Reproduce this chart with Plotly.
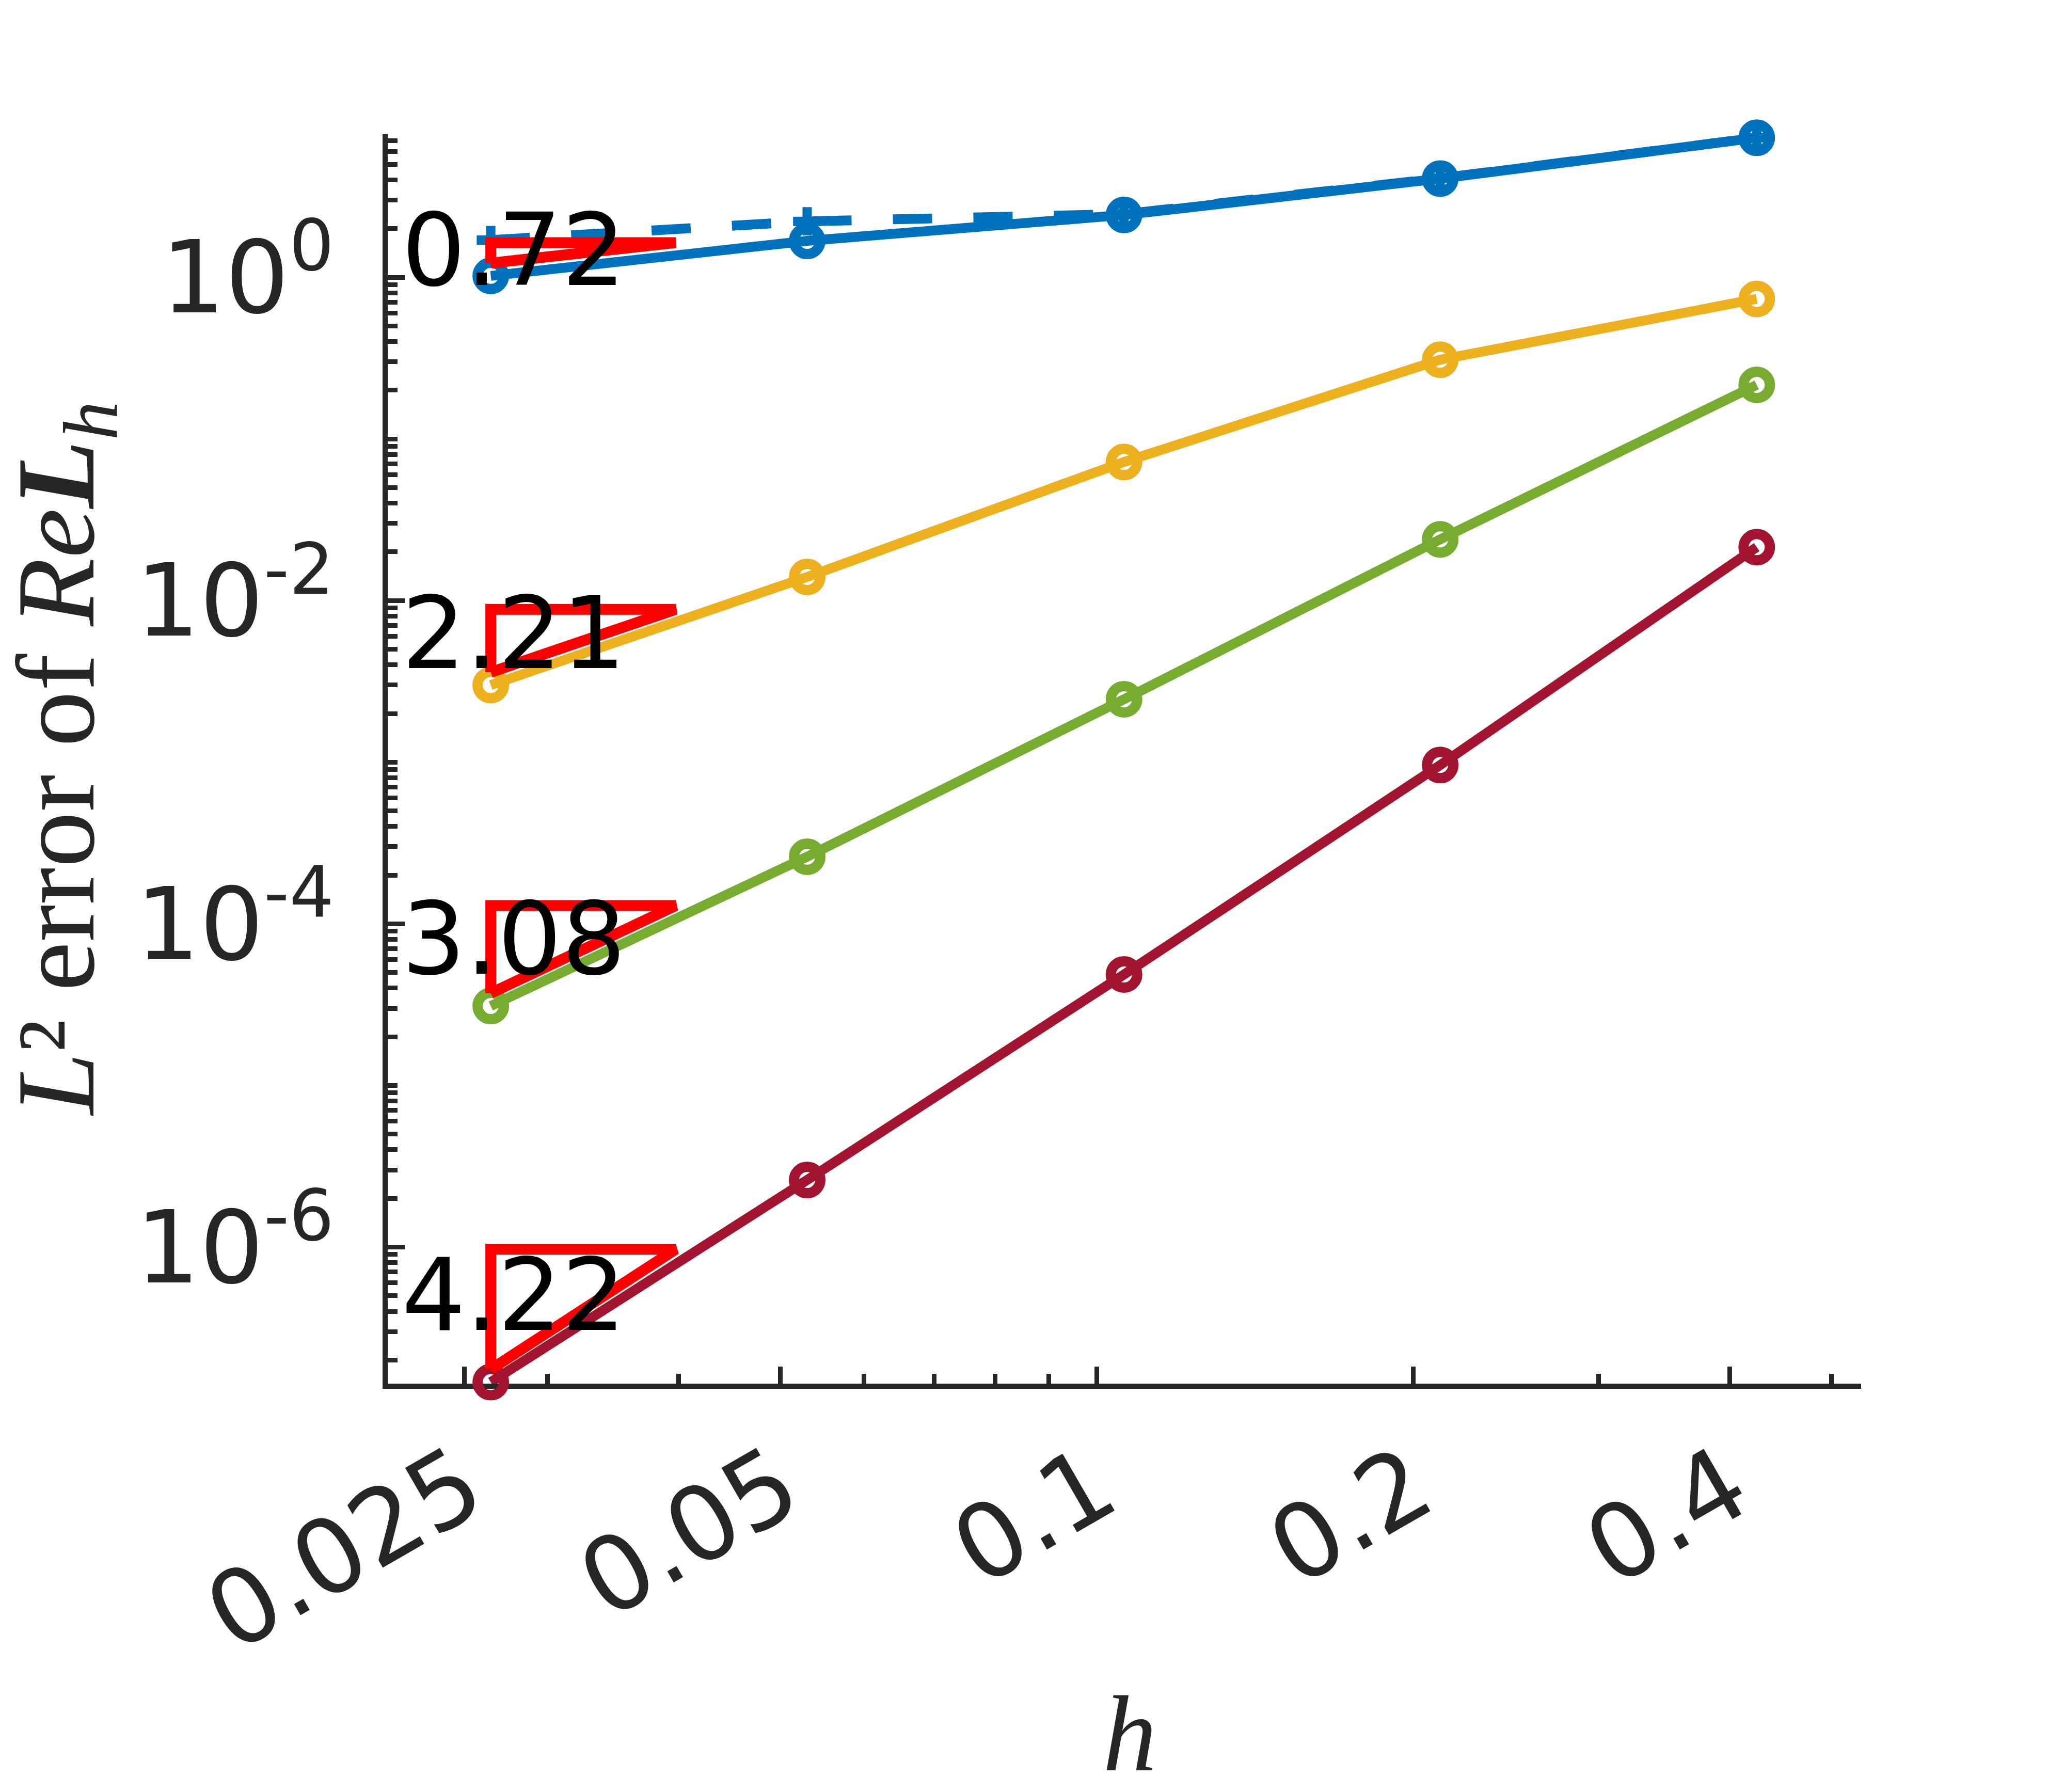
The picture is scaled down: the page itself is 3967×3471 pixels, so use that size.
import numpy as np
import plotly.graph_objects as go

# ---------------- data ----------------
h = [0.0265, 0.0530, 0.1061, 0.2121, 0.4243]
err_k1_solid = [1.02, 1.68, 2.43, 4.08, 7.30]
err_k1_dashed = [1.70, 2.22, 2.46, 4.10, 7.30]
err_k2 = [3.0e-3, 1.40e-2, 7.2e-2, 0.309, 0.735]
err_k3 = [3.1e-5, 2.6e-4, 2.45e-3, 2.39e-2, 0.216]
err_k4 = [1.46e-7, 2.6e-6, 4.86e-5, 9.6e-4, 2.14e-2]

rates = [0.72, 2.21, 3.08, 4.22]
rate_labels = ["0.72", "2.21", "3.08", "4.22"]

x_tickvals = [0.025, 0.05, 0.1, 0.2, 0.4]
x_ticktext = ["0.025", "0.05", "0.1", "0.2", "0.4"]
y_tickvals = [1e-6, 1e-4, 1e-2, 1e0]
y_ticktext = ["10<sup>-6</sup>", "10<sup>-4</sup>", "10<sup>-2</sup>", "10<sup>0</sup>"]

# ---------------- styling ----------------
W, H = 3967, 3471
L, R, T, B = 743, 370, 252, 799
AX = "#262626"
BLUE, YELLOW, GREEN, DRED = "#0072BD", "#EDB120", "#77AC30", "#A2142F"
LW = 19
MS, MLW = 51, 20

fig = go.Figure()

def add_series(y, color, dash="solid", symbol="circle-open", msize=MS, mlw=MLW):
    fig.add_trace(go.Scatter(
        x=h, y=y, mode="lines+markers",
        line=dict(color=color, width=LW, dash=dash),
        marker=dict(symbol=symbol, size=msize, color=color,
                    line=dict(color=color, width=mlw)),
        cliponaxis=False, showlegend=False))

add_series(err_k1_dashed, BLUE, dash="76px,80px", symbol="cross-thin-open", msize=39, mlw=18)
add_series(err_k1_solid, BLUE)
add_series(err_k2, YELLOW)
add_series(err_k3, GREEN)
add_series(err_k4, DRED)

# slope triangles anchored at the finest mesh point of each series
anchors = [err_k1_solid[0], err_k2[0], err_k3[0], err_k4[0]]
annotations = []
for y0, r, lab in zip(anchors, rates, rate_labels):
    x0 = h[0]
    x1 = x0 * 1.5
    yb = y0 * 1.2
    yt = yb * 1.5 ** r
    fig.add_trace(go.Scatter(
        x=[x0, x0, x1, x0], y=[yb, yt, yt, yb], mode="lines",
        line=dict(color="#FF0000", width=21), cliponaxis=False,
        showlegend=False, hoverinfo="skip"))
    annotations.append(dict(
        x=np.log10(x0 * 1.052), y=np.log10(yb) + 0.62 * (np.log10(yt) - np.log10(yb)),
        xref="x", yref="y", text=lab, showarrow=False,
        xanchor="center", yanchor="middle",
        font=dict(family="DejaVu Sans", size=195, color="#000000")))

# axis titles
annotations.append(dict(
    x=(116 - L) / (W - L - R), y=0.5, xref="paper", yref="paper",
    text="<i>L</i>² error of <i>Re</i><b><i>L</i></b><sub><i>h</i></sub>",
    textangle=-90, showarrow=False, xanchor="center", yanchor="middle",
    font=dict(family="Liberation Serif", size=216, color=AX)))
annotations.append(dict(
    x=0.5 + (2180 - (L + (W - L - R) / 2)) / (W - L - R),
    y=1 - (3350 - T) / (H - T - B), xref="paper", yref="paper",
    text="<i>h</i>", showarrow=False, xanchor="center", yanchor="middle",
    font=dict(family="Liberation Serif", size=210, color=AX)))

x_minor = [0.03, 0.04, 0.06, 0.07, 0.08, 0.09, 0.3, 0.5]
y_minor = [k * 10.0 ** n for n in range(-7, 1) for k in range(1, 10)
           if not (k == 1 and n in (-6, -4, -2, 0)) and 1.5e-7 < k * 10.0 ** n < 7.7]

fig.update_layout(
    width=W, height=H, autosize=False,
    margin=dict(l=L, r=R, t=T, b=B, pad=0),
    paper_bgcolor="white", plot_bgcolor="white",
    annotations=annotations,
    xaxis=dict(
        type="log", range=[-1.6748, -0.273],
        tickmode="array", tickvals=x_tickvals, ticktext=x_ticktext,
        tickangle=-30, ticks="inside", ticklen=33, tickwidth=9, tickcolor=AX,
        showline=True, linecolor=AX, linewidth=10, mirror=False,
        showgrid=False, zeroline=False, layer="below traces",
        tickfont=dict(family="DejaVu Sans", size=200, color=AX),
        ticklabelstandoff=0,
        minor=dict(tickvals=x_minor, ticks="inside", ticklen=19, tickwidth=9,
                   tickcolor=AX, showgrid=False)),
    yaxis=dict(
        type="log", range=[-6.845, 0.885],
        tickmode="array", tickvals=y_tickvals, ticktext=y_ticktext,
        ticks="inside", ticklen=33, tickwidth=9, tickcolor=AX,
        showline=True, linecolor=AX, linewidth=10, mirror=False,
        showgrid=False, zeroline=False, layer="below traces",
        tickfont=dict(family="DejaVu Sans", size=195, color=AX),
        ticklabelstandoff=55,
        minor=dict(tickvals=y_minor, ticks="inside", ticklen=19, tickwidth=9,
                   tickcolor=AX, showgrid=False)),
)

fig.write_html("out.html")
